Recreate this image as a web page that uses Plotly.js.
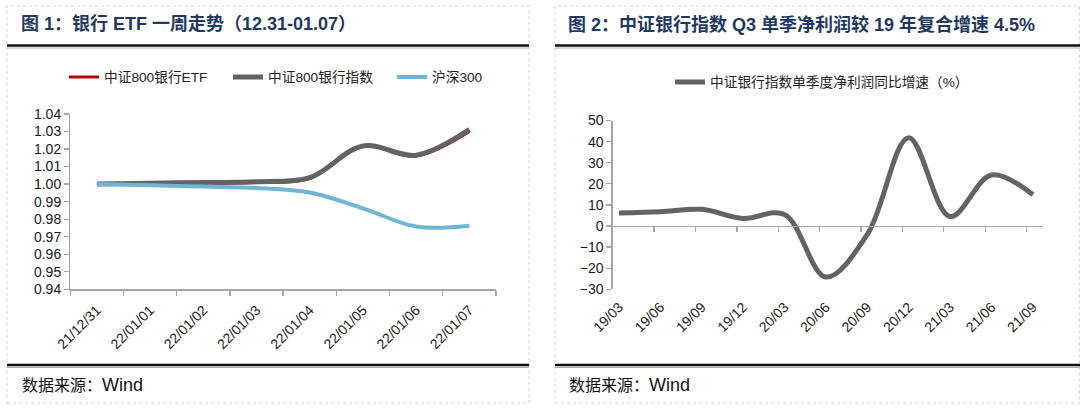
<!DOCTYPE html>
<html><head><meta charset="utf-8">
<script src="https://cdn.plot.ly/plotly-3.0.1.min.js"></script>
<style>html,body{margin:0;padding:0;background:#fff;} #chart{width:1080px;height:409px;}</style>
</head><body><div id="chart"></div>
<script>
// ---- data ----
const weekDates = ['21/12/31','22/01/01','22/01/02','22/01/03','22/01/04','22/01/05','22/01/06','22/01/07'];
const bankEtf   = [1.0000, 1.0003, 1.0006, 1.0009, 1.0032, 1.0213, 1.0160, 1.0300];
const bankIndex = [1.0000, 1.0005, 1.0009, 1.0013, 1.0037, 1.0218, 1.0165, 1.0313];
const hs300     = [1.0000, 0.9993, 0.9986, 0.9978, 0.9952, 0.9862, 0.9758, 0.9763];
const leftSeriesNames = ['中证800银行ETF', '中证800银行指数', '沪深300'];

const quarters = ['19/03','19/06','19/09','19/12','20/03','20/06','20/09','20/12','21/03','21/06','21/09'];
const profitGrowth = [6.2, 6.8, 7.9, 3.6, 5.5, -24.2, -4.0, 41.8, 4.5, 24.2, 14.8];
const rightSeriesName = '中证银行指数单季度净利润同比增速（%）';

const leftTitle = '图 1：银行 ETF 一周走势（12.31-01.07）';
const rightTitle = '图 2：中证银行指数 Q3 单季净利润较 19 年复合增速 4.5%';
const sourceLabel = '数据来源：';
const sourceName = 'Wind';

// ---- layout helpers ----
const W = 1080, H = 409;
const px = x => x / W;
const py = y => 1 - y / H;

const axisColor = '#A6A6A6';
const tickFont = {family: 'Liberation Sans, Arial, sans-serif', size: 14, color: '#1a1a1a'};
const cjkFont = 'Liberation Sans, "Noto Sans CJK SC", sans-serif';

const qIdx = quarters.map((_, i) => i);
const qTickOffset = -0.152;

const y2Domain = [py(289.3), py(120.5)];
const y2Range = [-30, 50];
const zeroPos = y2Domain[0] + (0 - y2Range[0]) / (y2Range[1] - y2Range[0]) * (y2Domain[1] - y2Domain[0]);

const traces = [
  {x: weekDates, y: bankEtf, name: leftSeriesNames[0], type: 'scatter', mode: 'lines',
   line: {color: '#C00000', width: 3, shape: 'spline'}, xaxis: 'x', yaxis: 'y', legend: 'legend', hoverinfo: 'skip'},
  {x: weekDates, y: bankIndex, name: leftSeriesNames[1], type: 'scatter', mode: 'lines',
   line: {color: '#636363', width: 5, shape: 'spline'}, xaxis: 'x', yaxis: 'y', legend: 'legend', hoverinfo: 'skip'},
  {x: weekDates, y: hs300, name: leftSeriesNames[2], type: 'scatter', mode: 'lines',
   line: {color: '#70B5D4', width: 4, shape: 'spline'}, xaxis: 'x', yaxis: 'y', legend: 'legend', hoverinfo: 'skip'},
  {x: qIdx, y: profitGrowth, name: rightSeriesName, type: 'scatter', mode: 'lines',
   line: {color: '#636363', width: 5, shape: 'spline'}, xaxis: 'x2', yaxis: 'y2', legend: 'legend2', hoverinfo: 'skip'},
  {x: [], y: [], type: 'scatter', mode: 'lines', xaxis: 'x3', yaxis: 'y2', showlegend: false, hoverinfo: 'skip'}
];

const ruleBlack = {color: '#111', width: 2.5};
const ruleGray = {color: '#aaa', width: 1};
const border = {color: '#d4d4d4', width: 1, dash: 'dot'};

const shapes = [
  {type: 'rect', xref: 'paper', yref: 'paper', x0: px(7), x1: px(529), y0: py(403), y1: py(6), line: border},
  {type: 'rect', xref: 'paper', yref: 'paper', x0: px(555), x1: px(1079.5), y0: py(403), y1: py(6), line: border},
  {type: 'line', xref: 'paper', yref: 'paper', x0: px(7), x1: px(529), y0: py(45.5), y1: py(45.5), line: ruleBlack},
  {type: 'line', xref: 'paper', yref: 'paper', x0: px(7), x1: px(529), y0: py(48), y1: py(48), line: ruleGray},
  {type: 'line', xref: 'paper', yref: 'paper', x0: px(555), x1: px(1080), y0: py(45.5), y1: py(45.5), line: ruleBlack},
  {type: 'line', xref: 'paper', yref: 'paper', x0: px(555), x1: px(1080), y0: py(48), y1: py(48), line: ruleGray},
  {type: 'line', xref: 'paper', yref: 'paper', x0: px(7), x1: px(529), y0: py(365), y1: py(365), line: ruleBlack},
  {type: 'line', xref: 'paper', yref: 'paper', x0: px(7), x1: px(529), y0: py(367.5), y1: py(367.5), line: ruleGray},
  {type: 'line', xref: 'paper', yref: 'paper', x0: px(555), x1: px(1080), y0: py(365), y1: py(365), line: ruleBlack},
  {type: 'line', xref: 'paper', yref: 'paper', x0: px(555), x1: px(1080), y0: py(367.5), y1: py(367.5), line: ruleGray}
];

const titleFont = {family: cjkFont, size: 18, color: '#1F3864'};
const srcFont = {family: cjkFont, size: 16, color: '#111'};
const srcHtml = sourceLabel + '<span style="font-size:18px">' + sourceName + '</span>';
const annotations = [
  {text: '<b>' + leftTitle + '</b>', xref: 'paper', yref: 'paper', x: px(19), y: py(24), xanchor: 'left', yanchor: 'middle', showarrow: false, font: titleFont},
  {text: '<b>' + rightTitle + '</b>', xref: 'paper', yref: 'paper', x: px(566), y: py(24), xanchor: 'left', yanchor: 'middle', showarrow: false, font: titleFont},
  {text: srcHtml, xref: 'paper', yref: 'paper', x: px(20), y: py(385), xanchor: 'left', yanchor: 'middle', showarrow: false, font: srcFont},
  {text: srcHtml, xref: 'paper', yref: 'paper', x: px(567), y: py(385), xanchor: 'left', yanchor: 'middle', showarrow: false, font: srcFont}
];

const layout = {
  width: W, height: H,
  margin: {l: 0, r: 0, t: 0, b: 0},
  paper_bgcolor: '#fff', plot_bgcolor: 'rgba(0,0,0,0)',
  showlegend: true,
  xaxis: {
    domain: [px(70.3), px(496)], anchor: 'y', type: 'category', range: [-0.5, weekDates.length - 0.5],
    tickson: 'boundaries', ticks: 'outside', ticklen: 5, tickcolor: axisColor, tickwidth: 1.3,
    showline: true, linecolor: axisColor, linewidth: 1.3, showgrid: false, zeroline: false,
    tickangle: -45, tickfont: tickFont, ticklabelstandoff: 6, fixedrange: true
  },
  yaxis: {
    domain: [py(289.3), py(114)], anchor: 'x', range: [0.94, 1.04], dtick: 0.01, tick0: 0.94, tickformat: '.2f',
    ticks: 'outside', ticklen: 5, tickcolor: axisColor, tickwidth: 1.3,
    showline: true, linecolor: axisColor, linewidth: 1.3, showgrid: false, zeroline: false,
    tickfont: tickFont, fixedrange: true
  },
  xaxis2: {
    domain: [px(612.7), px(1042)], anchor: 'y2', range: [qTickOffset, 10.22],
    tickvals: qIdx, ticktext: quarters, ticks: '', showline: false, showgrid: false, zeroline: false,
    tickangle: -45, tickfont: tickFont, ticklabelstandoff: 6, fixedrange: true
  },
  xaxis3: {
    domain: [px(612.7), px(1042)], overlaying: 'x2', anchor: 'free', position: zeroPos, range: [qTickOffset, 10.22],
    tickvals: qIdx.map(i => i + qTickOffset), showticklabels: false,
    ticks: 'outside', ticklen: 5, tickcolor: axisColor, tickwidth: 1.3,
    showline: true, linecolor: axisColor, linewidth: 1.3, showgrid: false, zeroline: false, fixedrange: true
  },
  yaxis2: {
    domain: y2Domain, anchor: 'x2', range: y2Range, dtick: 10, tick0: -30,
    ticks: 'outside', ticklen: 5, tickcolor: axisColor, tickwidth: 1.3,
    showline: true, linecolor: axisColor, linewidth: 1.3, showgrid: false, zeroline: false,
    tickfont: tickFont, fixedrange: true
  },
  legend: {
    orientation: 'h', x: px(64), y: py(77), xanchor: 'left', yanchor: 'middle',
    font: {family: cjkFont, size: 13.7, color: '#222'}, bgcolor: 'rgba(0,0,0,0)',
    entrywidth: 119, itemwidth: 30, tracegroupgap: 0
  },
  legend2: {
    orientation: 'h', x: px(670), y: py(82), xanchor: 'left', yanchor: 'middle',
    font: {family: cjkFont, size: 13.7, color: '#222'}, bgcolor: 'rgba(0,0,0,0)'
  },
  shapes: shapes,
  annotations: annotations
};

Plotly.newPlot('chart', traces, layout, {displayModeBar: false, staticPlot: true});
</script>
</body></html>
